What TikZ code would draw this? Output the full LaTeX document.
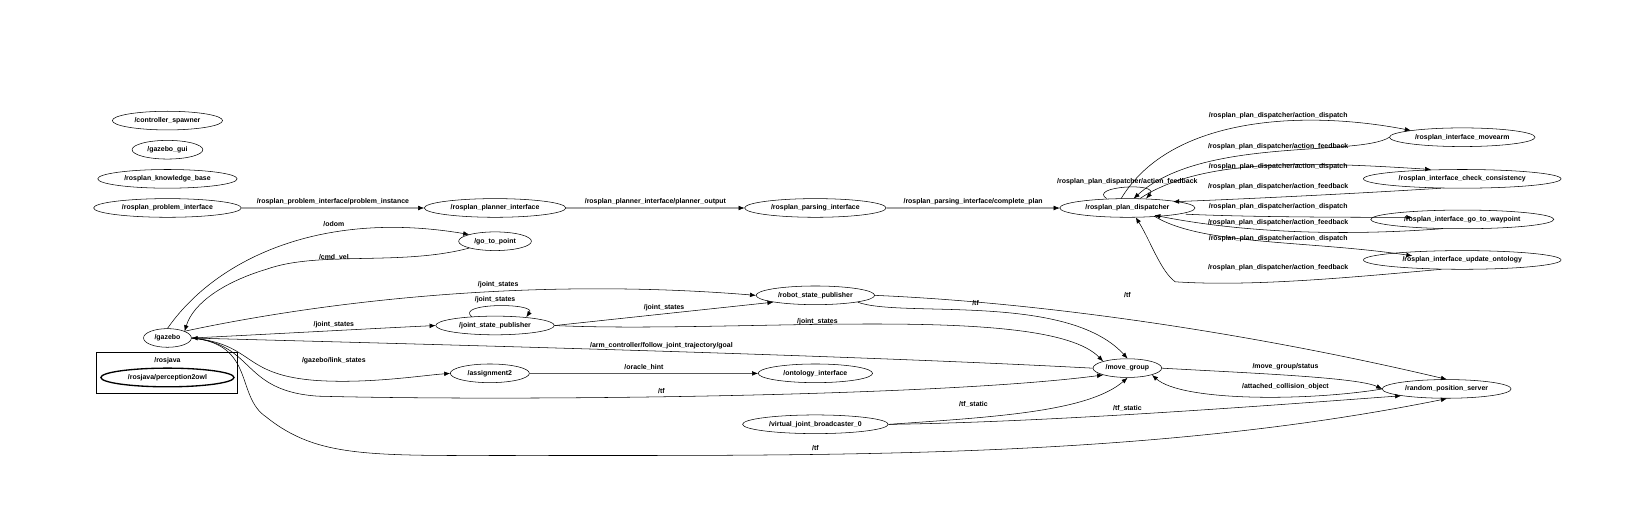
\documentclass[tikz,border=0pt]{standalone}
\usepackage{fontspec}
\setmainfont{Liberation Sans}
\usetikzlibrary{arrows.meta,shapes.geometric}
\begin{document}
\begin{tikzpicture}[x=0.75pt,y=-0.75pt,
  nd/.style={draw,ellipse,minimum height=14pt,inner sep=0pt,font=\fontsize{5.2}{6}\selectfont\bfseries},
  lb/.style={font=\fontsize{5.2}{6}\selectfont\bfseries},
  ed/.style={draw,thin,-{Latex[length=4.5pt,width=3.5pt]}}]
\useasboundingbox (0,0) rectangle (1631,520);
\tikzset{rx/.style={minimum width=#1*1.56pt}}
\begin{scope}[shift={(6.25,1)},scale=1.04]
\node[nd,rx=53] (cs) at (155,115) {/controller\_spawner};
\node[nd,rx=34] (gg) at (155,143) {/gazebo\_gui};
\node[nd,rx=67] (kb) at (155,171) {/rosplan\_knowledge\_base};
\node[nd,rx=71] (pi) at (155,199) {/rosplan\_problem\_interface};
\node[nd,rx=68] (pl) at (470,199) {/rosplan\_planner\_interface};
\node[nd,rx=68] (pa) at (778,199) {/rosplan\_parsing\_interface};
\node[nd,rx=65] (pd) at (1078,199) {/rosplan\_plan\_dispatcher};
\node[nd,rx=70] (ma) at (1400,131) {/rosplan\_interface\_movearm};
\node[nd,rx=95] (cc) at (1400,171) {/rosplan\_interface\_check\_consistency};
\node[nd,rx=88] (gw) at (1400,210) {/rosplan\_interface\_go\_to\_waypoint};
\node[nd,rx=95] (uo) at (1400,249) {/rosplan\_interface\_update\_ontology};
\node[nd,rx=35] (gp) at (470,231) {/go\_to\_point};
\node[nd,rx=23] (gz) at (155,324) {/gazebo};
\draw (87,338) rectangle (222,377);
\node[lb] (rj) at (155,346) {/rosjava};
\node[nd,rx=64,line width=1pt] (po) at (155,362) {/rosjava/perception2owl};
\node[nd,rx=57] (jsp) at (470,312) {/joint\_state\_publisher};
\node[nd,rx=57] (rsp) at (778,283) {/robot\_state\_publisher};
\node[nd,rx=38] (as) at (465,358) {/assignment2};
\node[nd,rx=55] (oi) at (778,358) {/ontology\_interface};
\node[nd,rx=33] (mg) at (1078,353) {/move\_group};
\node[nd,rx=62] (rps) at (1385,373) {/random\_position\_server};
\node[nd,rx=70] (vjb) at (778,407) {/virtual\_joint\_broadcaster\_0};

\draw[ed] (pi) -- node[lb,above=-1pt]{/rosplan\_problem\_interface/problem\_instance} (pl);
\draw[ed] (pl) -- node[lb,above=-1pt]{/rosplan\_planner\_interface/planner\_output} (pa);
\draw[ed] (pa) -- node[lb,above=-1pt]{/rosplan\_parsing\_interface/complete\_plan} (pd);
\draw[ed] (1058,190) .. controls (1040,178) and (1110,174) .. (1096,190);
\node[lb] at (1078,174) {/rosplan\_plan\_dispatcher/action\_feedback};
\draw[ed] (1072,190) .. controls (1120,110) and (1250,105) .. (ma.north west);
\node[lb] at (1223,110) {/rosplan\_plan\_dispatcher/action\_dispatch};
\draw[ed] (ma.west) .. controls (1300,150) and (1150,130) .. (1084,190);
\node[lb] at (1223,140) {/rosplan\_plan\_dispatcher/action\_feedback};
\draw[ed] (1090,190) .. controls (1150,150) and (1260,155) .. (1370,162);
\node[lb] at (1223,159) {/rosplan\_plan\_dispatcher/action\_dispatch};
\draw[ed] (1380,180) .. controls (1300,185) and (1200,190) .. (1122,193);
\node[lb] at (1223,179) {/rosplan\_plan\_dispatcher/action\_feedback};
\draw[ed] (1134,205) .. controls (1200,208) and (1300,208) .. (1352,208);
\node[lb] at (1223,198) {/rosplan\_plan\_dispatcher/action\_dispatch};
\draw[ed] (1380,219) .. controls (1300,225) and (1200,225) .. (1104,206);
\node[lb] at (1223,213) {/rosplan\_plan\_dispatcher/action\_feedback};
\draw[ed] (1104,207) .. controls (1150,235) and (1250,230) .. (1352,245);
\node[lb] at (1223,229) {/rosplan\_plan\_dispatcher/action\_dispatch};
\draw[ed] (1380,258) .. controls (1300,265) and (1200,275) .. (1124,270) .. controls (1110,260) and (1100,230) .. (1086,208);
\node[lb] at (1223,256) {/rosplan\_plan\_dispatcher/action\_feedback};
\draw[ed] (gz.north) .. controls (200,250) and (300,200) .. (gp.north west);
\node[lb] at (315,214) {/odom};
\draw[ed] (gp.south west) .. controls (380,255) and (300,240) .. (250,258) .. controls (210,270) and (180,290) .. (gz.north east);
\node[lb] at (315,247) {/cmd\_vel};
\draw[ed] (gz.north east) .. controls (300,290) and (500,265) .. (rsp.west);
\node[lb] at (473,273) {/joint\_states};
\draw[ed] (gz.east) .. controls (260,320) and (350,315) .. (jsp.west);
\node[lb] at (315,311) {/joint\_states};
\draw[ed] (448,304) .. controls (430,290) and (510,290) .. (500,304);
\node[lb] at (470,287) {/joint\_states};
\draw[ed] (jsp.east) -- node[lb,above=-1pt]{/joint\_states} (rsp.south west);
\draw[ed] (jsp.east) .. controls (700,320) and (1000,290) .. (mg.north west);
\node[lb] at (780,308) {/joint\_states};
\draw[ed] (rsp.south east) .. controls (860,305) and (1020,280) .. (mg.north);
\node[lb] at (932,290) {/tf};
\draw[ed] (rsp.east) .. controls (1000,290) and (1200,320) .. (rps.north);
\node[lb] at (1078,283) {/tf};
\draw[ed] (mg.west) .. controls (800,340) and (400,330) .. (gz.east);
\node[lb] at (630,331) {/arm\_controller/follow\_joint\_trajectory/goal};
\draw[ed] (gz.east) .. controls (240,330) and (225,360) .. (300,365) .. controls (350,368) and (400,360) .. (as.west);
\node[lb] at (315,346) {/gazebo/link\_states};
\draw[ed] (as) -- node[lb,above=-1pt]{/oracle\_hint} (oi);
\draw[ed] (gz.east) .. controls (240,330) and (225,375) .. (300,380) .. controls (500,385) and (900,380) .. (mg.south west);
\node[lb] at (630,375) {/tf};
\draw[ed] (mg.east) .. controls (1200,358) and (1300,362) .. (rps.west);
\node[lb] at (1230,352) {/move\_group/status};
\draw[ed] (rps.west) .. controls (1250,385) and (1130,385) .. (mg.south east);
\node[lb] at (1230,371) {/attached\_collision\_object};
\draw[ed] (vjb.east) .. controls (950,400) and (1040,395) .. (mg.south);
\node[lb] at (930,388) {/tf\_static};
\draw[ed] (vjb.east) .. controls (1000,405) and (1200,390) .. (rps.south west);
\node[lb] at (1078,392) {/tf\_static};
\draw[ed] (gz.east) .. controls (240,330) and (220,380) .. (250,400) .. controls (300,440) and (350,437) .. (500,437) .. controls (800,437) and (1100,440) .. (rps.south);
\node[lb] at (778,430) {/tf};
\end{scope}
\end{tikzpicture}
\end{document}
